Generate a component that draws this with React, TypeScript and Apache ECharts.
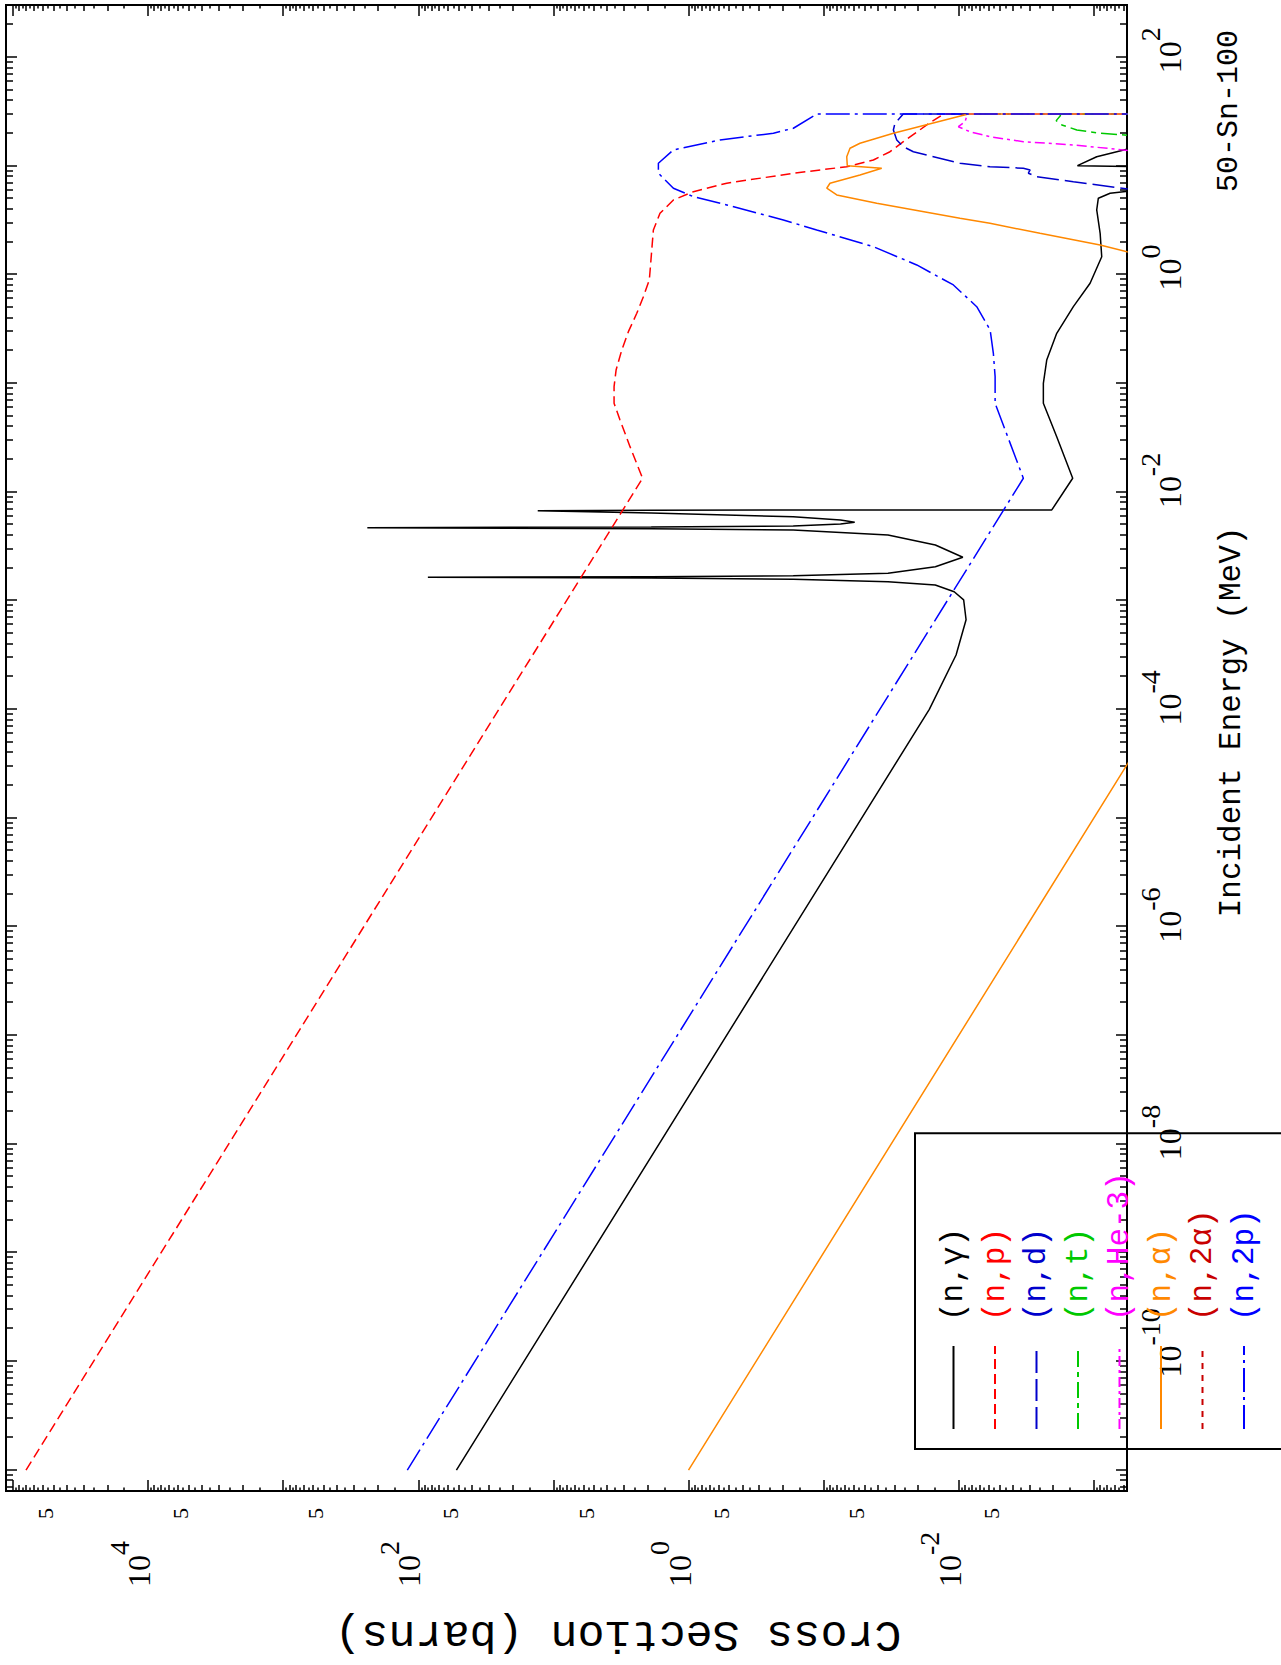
import React, { useEffect, useRef } from "react";
import * as echarts from "echarts";

// ---------- data: [incident energy (MeV), cross section (barns)] ----------
const nGamma: [number, number][] = [
  [1e-11, 52.2], [1e-4, 0.01652], [3.16e-4, 0.01047], [6.67e-4, 8.83e-3], [1.016e-3, 9.2e-3],
  [1.208e-3, 0.01081], [1.393e-3, 0.01493], [1.493e-3, 0.0334], [1.57e-3, 0.168], [1.614e-3, 1.888],
  [1.641e-3, 84.9], [1.663e-3, 1.888], [1.694e-3, 0.168], [1.786e-3, 0.0334], [2.051e-3, 0.0149],
  [2.506e-3, 9.33e-3], [3.25e-3, 0.0149], [4.018e-3, 0.0334], [4.467e-3, 0.168], [4.592e-3, 1.888],
  [4.688e-3, 238.2], [4.764e-3, 1.888], [4.864e-3, 0.168], [5.07e-3, 0.075], [5.26e-3, 0.0589],
  [5.52e-3, 0.075], [5.92e-3, 0.168], [6.41e-3, 1.888], [6.73e-3, 13.06], [6.78e-3, 1.888],
  [6.82e-3, 0.168], [6.83e-3, 2.05e-3], [0.01337, 1.435e-3], [0.03228, 1.884e-3], [0.06546, 2.366e-3],
  [0.1, 2.366e-3], [0.1637, 2.234e-3], [0.2884, 1.884e-3], [0.507, 1.419e-3], [0.8318, 1.067e-3],
  [1.462, 8.75e-4], [2.399, 8.99e-4], [3.936, 9.53e-4], [5.047, 9.27e-4], [5.61, 7.59e-4],
  [6.31, 3.16e-4], [9.77, 3.16e-4], [10.06, 1.324e-3], [12.16, 9.53e-4], [14.22, 5.71e-4],
  [17.8, 2.5e-4], [30, 1e-4],
];

const nP: [number, number][] = [
  [1e-11, 7.998e4], [0.01337, 2.188], [0.02612, 2.71], [0.04603, 3.214], [0.06546, 3.556],
  [0.09311, 3.556], [0.1324, 3.436], [0.2023, 3.119], [0.2985, 2.786], [0.4406, 2.415],
  [0.6266, 2.158], [0.8933, 1.95], [1.271, 1.905], [1.687, 1.871], [2.576, 1.82], [3.664, 1.626],
  [4.864, 1.294], [5.794, 0.9204], [6.934, 0.5212], [8.57, 0.1675], [9.84, 0.06745],
  [11.35, 0.04285], [13.52, 0.03228], [16.71, 0.0257], [23.82, 0.01726], [30, 0.013], [30, 1e-5],
];

const nD: [number, number][] = [
  [3.16, 1e-5], [7.161, 1.419e-3], [7.962, 2.649e-3], [8.57, 3.055e-3], [9.183, 2.965e-3],
  [9.528, 3.327e-3], [9.84, 5.875e-3], [10.59, 9.795e-3], [13.52, 0.02168], [15.03, 0.02576],
  [17.34, 0.02877], [21.43, 0.03048], [24.72, 0.02965], [30, 0.02576], [30, 1e-5],
];

const nT: [number, number][] = [
  [12.59, 1e-5], [17.78, 2.512e-4], [20.0, 8.99e-4], [21.43, 1.337e-3], [23.82, 1.726e-3],
  [26.12, 1.901e-3], [28.84, 1.778e-3], [30, 1.758e-3], [30, 1e-5],
];

const nHe3: [number, number][] = [
  [7.943, 1e-4], [12.59, 2.512e-4], [15.6, 1.419e-3], [16.71, 3.327e-3], [18.58, 5.875e-3],
  [20.65, 8.26e-3], [22.96, 0.01007], [25.53, 8.974e-3], [30, 8.65e-3], [30, 1e-5],
];

const nAlpha: [number, number][] = [
  [1e-11, 1.0], [1e-3, 1e-4], [1.259, 2.512e-4], [1.875, 8.995e-4], [2.399, 2.506e-3],
  [2.965, 5.875e-3], [3.296, 9.795e-3], [4.529, 0.04046], [5.408, 0.07998], [6.237, 0.09484],
  [6.934, 0.08974], [8.26, 0.05383], [9.528, 0.03715], [10.05, 0.06683], [12.16, 0.06745],
  [14.55, 0.06383], [16.18, 0.05383], [20.0, 0.03048], [30, 8.51e-3], [30, 1e-5],
];

const n2Alpha: [number, number][] = [
  [20, 1e-5], [30, 3e-5], [30, 1e-6],
];

const n2P: [number, number][] = [
  [1e-11, 120.5], [0.01337, 3.327e-3], [0.06546, 5.383e-3], [0.1151, 5.383e-3], [0.1888, 5.546e-3],
  [0.3097, 5.861e-3], [0.507, 7.362e-3], [0.8035, 0.01096], [1.227, 0.02046], [1.807, 0.04285],
  [2.576, 0.1125], [3.184, 0.1986], [4.375, 0.5212], [5.212, 0.9204], [6.237, 1.294],
  [8.57, 1.671], [10.59, 1.671], [14.03, 1.294], [17.34, 0.5848], [20.0, 0.2355],
  [22.23, 0.1675], [30, 0.1125], [30, 1e-5],
];

// tick-label exponents
const energyLabelExps = [-10, -8, -6, -4, -2, 0, 2];
const xsLabelExps = [-2, 0, 2, 4];
const xsFiveDecades = [-3, -2, -1, 0, 1, 2, 3, 4];

// ---------- styling ----------
const SERIF = '"Liberation Serif", "DejaVu Serif", serif';
const MONO = '"Liberation Mono", "DejaVu Sans Mono", monospace';

const E_MIN = -11.193, E_MAX = 2.481; // log10(MeV)
const S_MIN = -3.245, S_MAX = 5.051; // log10(barns)

const seriesDefs = [
  { name: "(n,γ)", data: nGamma, color: "#000000", dash: "solid" as any },
  { name: "(n,p)", data: nP, color: "#ff0000", dash: [10, 5] },
  { name: "(n,d)", data: nD, color: "#0000cc", dash: [22, 6] },
  { name: "(n,t)", data: nT, color: "#00c800", dash: [16, 5, 5, 5] },
  { name: "(n,He-3)", data: nHe3, color: "#ff00ff", dash: [10, 4, 3, 4] },
  { name: "(n,α)", data: nAlpha, color: "#ff8800", dash: "solid" as any },
  { name: "(n,2α)", data: n2Alpha, color: "#c80000", dash: [6, 6] },
  { name: "(n,2p)", data: n2P, color: "#0000ff", dash: [24, 5, 3, 5] },
];

const intRange = (a: number, b: number) => {
  const r: number[] = [];
  for (let i = a; i <= b; i++) r.push(i);
  return r;
};
const minorVals = (ks: number[], lo: number, hi: number) => {
  const out: number[] = [];
  for (let n = Math.floor(lo) - 1; n <= Math.ceil(hi); n++) {
    for (const k of ks) {
      const v = n + Math.log10(k);
      if (v > lo && v < hi) out.push(v);
    }
  }
  return out;
};

const intKs = [2, 3, 4, 5, 6, 7, 8, 9];
const halfKs = [1.5, 2.5, 3.5, 4.5, 5.5, 6.5, 7.5, 8.5, 9.5];

// "10" sits low in a 40px line, the exponent is raised to the top of it
const bBase = { fontFamily: SERIF, fontSize: 32, height: 18, lineHeight: 40, verticalAlign: "bottom", color: "#000" };
const sBase = { fontFamily: SERIF, fontSize: 28, height: 22, lineHeight: 22, verticalAlign: "top", color: "#000" };
const rich = {
  b: bBase,
  b1: { ...bBase, padding: [0, 0, 0, 14] },
  b2: { ...bBase, padding: [0, 0, 0, 23] },
  b3: { ...bBase, padding: [0, 0, 0, 37] },
  s: sBase,
};

const energyFmt = (v: number) => {
  const s = String(Math.round(v));
  const key = s.length === 1 ? "b1" : s.length === 2 ? "b2" : "b3";
  return `{${key}|10}{s|${s}}`;
};
const xsFmt = (v: number) => `{b|10}{s|${Math.round(v)}}`;

function tickAxis(kind: "x" | "y", position: string, ticks: number[], len: number, extra: any = {}) {
  return {
    type: "value",
    min: kind === "x" ? E_MIN : S_MIN,
    max: kind === "x" ? E_MAX : S_MAX,
    position,
    axisLine: { show: false, onZero: false },
    splitLine: { show: false },
    axisTick: { show: true, inside: true, length: len, customValues: ticks, lineStyle: { color: "#000", width: 1.5 } },
    axisLabel: { show: false },
    ...extra,
  };
}

function buildOption() {
  const eMajor = intRange(-11, 2);
  const eMinor = minorVals(intKs, E_MIN, E_MAX);
  const sMajor = intRange(-3, 5);
  const sMinor = minorVals(intKs, S_MIN, S_MAX);
  const sHalf = minorVals(halfKs, S_MIN, S_MAX);
  const fives = xsFiveDecades.map((n) => n + Math.log10(5));

  const xAxis = [
    tickAxis("x", "bottom", eMajor, 11, {
      name: "Incident Energy (MeV)",
      nameLocation: "middle",
      nameGap: 89,
      nameTextStyle: { fontFamily: MONO, fontSize: 31, color: "#000", padding: [0, 0, 0, 52] },
      axisLabel: {
        show: true,
        customValues: energyLabelExps,
        formatter: energyFmt,
        margin: 12,
        rich,
        color: "#000",
      },
    }),
    tickAxis("x", "bottom", eMinor, 7),
    tickAxis("x", "top", eMajor, 11),
    tickAxis("x", "top", eMinor, 7),
  ];

  const yAxis = [
    tickAxis("y", "left", sMajor, 11, {
      name: "Cross Section (barns)",
      nameLocation: "middle",
      nameRotate: 90,
      nameGap: 120,
      nameTextStyle: { fontFamily: MONO, fontSize: 45, color: "#000", padding: [0, 103, 0, 0] },
      axisLabel: {
        show: true,
        customValues: xsLabelExps,
        formatter: xsFmt,
        margin: 96,
        align: "left",
        verticalAlign: "bottom",
        rich,
        color: "#000",
      },
    }),
    tickAxis("y", "left", sMinor, 6, {
      axisLabel: {
        show: true,
        customValues: fives,
        formatter: () => "5",
        margin: 17,
        align: "right",
        verticalAlign: "bottom",
        lineHeight: 16,
        fontFamily: SERIF,
        fontSize: 22,
        color: "#000",
      },
    }),
    tickAxis("y", "left", sHalf, 3.5),
    tickAxis("y", "right", sMajor, 11),
    tickAxis("y", "right", sMinor, 6),
    tickAxis("y", "right", sHalf, 3.5),
  ];

  const series = seriesDefs.map((d) => ({
    name: d.name,
    type: "line",
    xAxisIndex: 0,
    yAxisIndex: 0,
    data: d.data.map(([e, s]) => [Math.log10(e), Math.log10(s)]),
    symbol: "none",
    showSymbol: false,
    clip: true,
    silent: true,
    color: d.color,
    lineStyle: { color: d.color, width: 1.5, type: d.dash },
    emphasis: { disabled: true },
  }));

  return {
    animation: false,
    backgroundColor: "#ffffff",
    title: {
      text: "50-Sn-100",
      right: 30,
      top: 1214,
      padding: 0,
      textStyle: { fontFamily: MONO, fontSize: 30, fontWeight: "normal", color: "#000" },
    },
    grid: {
      left: 174,
      right: 5,
      top: 6,
      bottom: 154,
      show: true,
      borderColor: "#000",
      borderWidth: 2,
      containLabel: false,
      outerBoundsMode: "none",
    },
    legend: {
      orient: "vertical",
      left: 216,
      top: 915,
      height: 440,
      padding: [23, 39, 27, 19],
      itemWidth: 83,
      itemHeight: 14,
      itemGap: 10.5,
      borderColor: "#000",
      borderWidth: 2,
      selectedMode: false,
      itemStyle: { opacity: 0 },
      textStyle: { fontFamily: MONO, fontSize: 31, lineHeight: 30, padding: [0, 0, 0, 20] },
      data: seriesDefs.map((d) => ({ name: d.name, textStyle: { color: d.color } })),
    },
    xAxis,
    yAxis,
    series,
  };
}

export default function App() {
  const ref = useRef<HTMLDivElement>(null);
  useEffect(() => {
    if (!ref.current) return;
    const chart = echarts.init(ref.current, null, { renderer: "svg" });
    chart.setOption(buildOption() as any);
    return () => chart.dispose();
  }, []);
  return (
    <div
      style={{
        position: "fixed",
        left: 0,
        top: 0,
        width: 1281,
        height: 1665,
        overflow: "hidden",
        background: "#fff",
      }}
    >
      <div
        ref={ref}
        style={{
          position: "absolute",
          left: 0,
          top: 0,
          width: 1665,
          height: 1281,
          transformOrigin: "0 0",
          transform: "translateY(1665px) rotate(-90deg)",
        }}
      />
    </div>
  );
}
